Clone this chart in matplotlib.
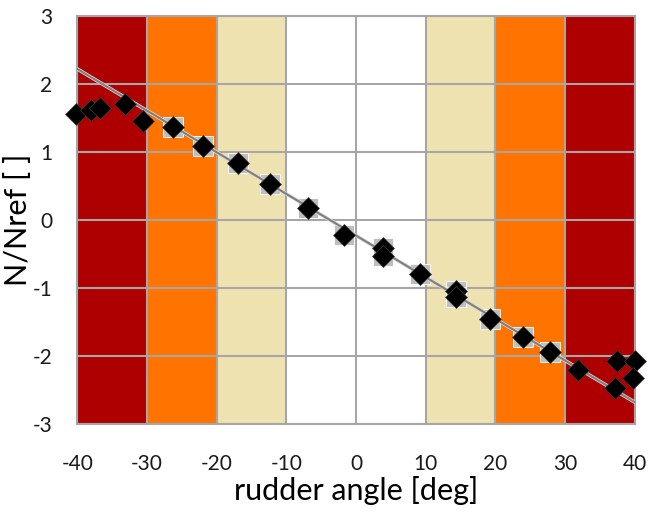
import matplotlib

matplotlib.use("Agg")
import matplotlib.pyplot as plt  # noqa: E402
import matplotlib.patheffects as pe  # noqa: E402

GRID = "#a6a6a6"
plt.rcParams.update({"font.family": ["Lato", "DejaVu Sans"], "font.size": 15,
                     "axes.unicode_minus": False})

# rudder angle bands and their colours (Excel-style background)
band_edges = [-40, -30, -20, -10, 10, 20, 30, 40]
band_colors = ["#ae0000", "#ff7300", "#eee2b0", "#ffffff", "#eee2b0", "#ff7300", "#ae0000"]

# measured yaw moment, all points
angle = [-40.2, -38.0, -36.7, -33.2, -30.5, -26.2, -22.0, -17.0, -12.3, -6.9, -1.7,
         3.9, 3.9, 9.2, 14.4, 14.4, 19.3, 23.9, 27.8, 31.8, 37.1, 37.5, 40.1, 39.8]
n_ratio = [1.56, 1.62, 1.64, 1.71, 1.45, 1.36, 1.08, 0.83, 0.53, 0.18, -0.22,
           -0.42, -0.53, -0.80, -1.05, -1.14, -1.46, -1.72, -1.94, -2.20, -2.47, -2.08,
           -2.08, -2.33]
# points inside the linear range (grey square behind the diamond)
lin_angle = angle[5:19]
lin_ratio = n_ratio[5:19]

# linear trend line
trend_x = [-40, 40]
trend_y = [2.22, -2.68]

fig = plt.figure(figsize=(6.49, 5.12), dpi=100)
ax = fig.add_axes([0.119, 0.172, 0.859, 0.797])

for lo, hi, c in zip(band_edges[:-1], band_edges[1:], band_colors):
    ax.axvspan(lo, hi, color=c, lw=0, zorder=0)

ax.plot(lin_angle, lin_ratio, "s", ms=14, color="#bfbfbf", mec="white", mew=0.6, zorder=3)
ax.plot(trend_x, trend_y, "-", color="#7f7f7f", lw=1.5, zorder=4,
        path_effects=[pe.Stroke(linewidth=2.6, foreground="#d9d9d9"), pe.Normal()])
ax.plot(angle, n_ratio, "D", ms=11, color="black", mec="#404040", mew=0.5, zorder=5,
        clip_on=False)

ax.set_xlim(-40, 40)
ax.set_ylim(-3, 3)
ax.set_xticks(range(-40, 41, 10))
ax.set_yticks(range(-3, 4))
ax.grid(True, color=GRID, lw=1.5, zorder=1)
ax.set_axisbelow(False)
for sp in ax.spines.values():
    sp.set_color(GRID)
    sp.set_linewidth(1.5)
ax.tick_params(length=0, colors="#1a1a1a", labelsize=15)
ax.tick_params(axis="x", pad=22)
ax.tick_params(axis="y", pad=18)
ax.set_xlabel("rudder angle [deg]", fontsize=22, labelpad=1)
ax.set_ylabel("N/Nref [ ]", fontsize=22, labelpad=0)

fig.savefig("out.png", dpi=100)
